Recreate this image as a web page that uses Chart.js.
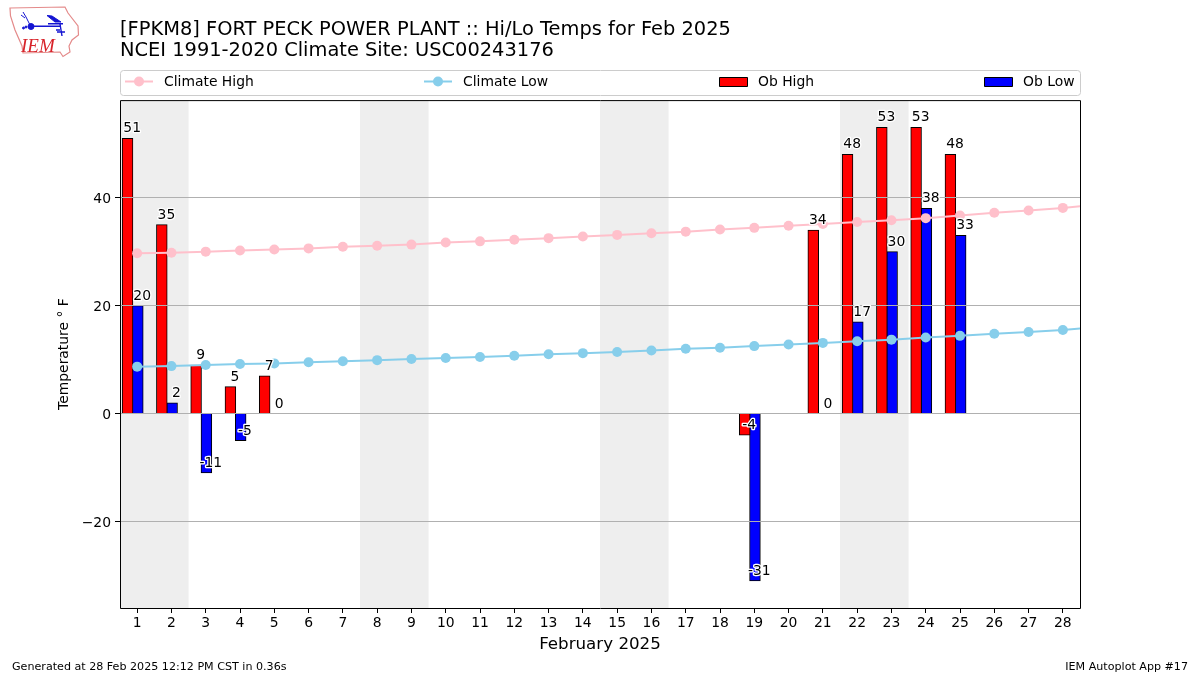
<!DOCTYPE html>
<html><head><meta charset="utf-8">
<style>html,body{margin:0;padding:0;background:#fff;overflow:hidden}
#wrap{position:relative;width:1200px;height:675px}
canvas{position:absolute;left:0;top:0}
#logo{position:absolute;left:0;top:0}</style>
<script src="https://cdn.jsdelivr.net/npm/chart.js@4"></script>
</head><body><div id="wrap"><canvas id="c" width="1200" height="675"></canvas>
<svg id="logo" width="90" height="64" viewBox="0 0 90 64">
<path d="M10 8 L65 7 L68 13 L78 26 L78.5 35 L72 40 L69 46 L70 52 L63 56.5 L60 52 L23 53 L22 46 L15 30 L10.5 16 Z" fill="none" stroke="#e48a8a" stroke-width="1.2"/>
<g stroke="#1414d2" fill="#1414d2"><path d="M31 26.3 H61 M48 23.7 H63" stroke-width="1.6" fill="none"/><circle cx="31" cy="26.5" r="3"/>
<path d="M47 15.5 L52 16 L61 22 L55 22 Z" stroke-width="1"/><path d="M23 12 L26 17 L30 25 M21 15 L25 18" fill="none" stroke-width="1"/>
<path d="M60 24 L62 36 M57 32 L65 32 M56 30 L60 30" fill="none" stroke-width="1.4"/><circle cx="23.5" cy="28" r="1"/><circle cx="26" cy="27" r="1"/></g>
<text x="21" y="51.5" font-family="Liberation Serif" font-style="italic" font-size="19" fill="#d8232a">IEM</text>
</svg></div>
<script>
const days = [1,2,3,4,5,6,7,8,9,10,11,12,13,14,15,16,17,18,19,20,21,22,23,24,25,26,27,28];
const climateDays = [1,2,3,4,5,6,7,8,9,10,11,12,13,14,15,16,17,18,19,20,21,22,23,24,25,26,27,28,29];
const climateHigh = [29.7,29.8,30.0,30.2,30.4,30.6,30.9,31.1,31.3,31.7,31.9,32.2,32.5,32.8,33.1,33.4,33.7,34.1,34.4,34.8,35.1,35.5,35.8,36.2,36.7,37.2,37.6,38.1,38.7];
const climateLow = [8.7,8.8,9.0,9.2,9.3,9.5,9.7,9.9,10.1,10.3,10.5,10.7,11.0,11.2,11.4,11.7,12.0,12.2,12.5,12.8,13.1,13.4,13.7,14.1,14.4,14.8,15.1,15.5,16.0];
const obHigh = [51,35,9,5,7,null,null,null,null,null,null,null,null,null,null,null,null,null,-4,null,34,48,53,53,48,null,null,null];
const obLow = [20,2,-11,-5,0,null,null,null,null,null,null,null,null,null,null,null,null,null,-31,null,0,17,30,38,33,null,null,null];
const weekendStarts = [1,8,15,22];
const yTicks = [-20,0,20,40];
const titleLines = ['[FPKM8] FORT PECK POWER PLANT :: Hi/Lo Temps for Feb 2025','NCEI 1991-2020 Climate Site: USC00243176'];
const xLabel = 'February 2025';
const yLabel = 'Temperature \u00B0 F';
const footLeft = 'Generated at 28 Feb 2025 12:12 PM CST in 0.36s';
const footRight = 'IEM Autoplot App #17';

const FONT = '"DejaVu Sans"';
const HI_OFF = -0.28, LO_OFF = 0.02, BAR_W = 10.8, LABEL_OFF = 0.146;
Chart.defaults.font.family = FONT;
Chart.defaults.color = '#000';

const deco = {
  id:'deco',
  beforeDraw(ch){
    ch.scales.y.getLabelItems().forEach(it=>{it.textOffset += 1.5;});
  },
  beforeDatasetsDraw(ch){
    const {ctx,chartArea:a,scales:{x}} = ch;
    ctx.save(); ctx.fillStyle='#eeeeee';
    weekendStarts.forEach(d=>{const l=x.getPixelForValue(d-0.5),r=x.getPixelForValue(d+1.5);ctx.fillRect(l,a.top,r-l,a.bottom-a.top);});
    ctx.restore();
  },
  afterDraw(ch){
    const {ctx,chartArea:a,scales:{x,y}} = ch;
    ctx.save();
    ctx.font='13.9px '+FONT; ctx.textAlign='center'; ctx.textBaseline='alphabetic'; ctx.lineJoin='round';
    const lab=(vals,off)=>vals.forEach((v,i)=>{ if(v===null) return;
      const px=x.getPixelForValue(days[i]+off), py=y.getPixelForValue(v)-6;
      ctx.strokeStyle='#fff'; ctx.lineWidth=2.6; ctx.strokeText(String(v),px,py);
      ctx.fillStyle='#000'; ctx.fillText(String(v),px,py);});
    lab(obHigh,-LABEL_OFF); lab(obLow,LABEL_OFF);
    ctx.textAlign='left';
    ctx.strokeStyle='#000'; ctx.lineWidth=1;
    ctx.strokeRect(a.left+0.5,a.top+0.5,a.right-a.left,a.bottom-a.top);
    ctx.strokeStyle='#cccccc'; ctx.beginPath(); ctx.roundRect(120.5,70.5,960,25,3); ctx.stroke();
    const ds=ch.data.datasets, cy=81.5;
    [[125,ds[0]],[424,ds[1]]].forEach(([lx,d])=>{
      ctx.strokeStyle=d.borderColor; ctx.lineWidth=2; ctx.beginPath(); ctx.moveTo(lx,cy); ctx.lineTo(lx+28,cy); ctx.stroke();
      ctx.fillStyle=d.borderColor; ctx.beginPath(); ctx.arc(lx+14,cy,5,0,7); ctx.fill();
      ctx.fillStyle='#000'; ctx.fillText(d.label,lx+39,cy+4.5);
    });
    [[719.5,ds[2]],[984.5,ds[3]]].forEach(([lx,d])=>{
      ctx.fillStyle=d.backgroundColor; ctx.fillRect(lx,77.5,28,9); ctx.strokeStyle='#000'; ctx.lineWidth=1; ctx.strokeRect(lx,77.5,28,9);
      ctx.fillStyle='#000'; ctx.fillText(d.label,lx+38.5,cy+4.5);
    });
    ctx.font='11.12px '+FONT; ctx.fillText(footLeft,12,670);
    ctx.textAlign='right'; ctx.fillText(footRight,1188,670);
    ctx.restore();
  }
};

new Chart(document.getElementById('c'),{
  type:'bar',
  plugins:[deco],
  data:{datasets:[
    {type:'line',label:'Climate High',order:1,data:climateDays.map((d,i)=>({x:d,y:climateHigh[i]})),borderColor:'#ffc0cb',backgroundColor:'#ffc0cb',borderWidth:2,pointRadius:5,pointBorderWidth:0,tension:0},
    {type:'line',label:'Climate Low',order:1,data:climateDays.map((d,i)=>({x:d,y:climateLow[i]})),borderColor:'#87ceeb',backgroundColor:'#87ceeb',borderWidth:2,pointRadius:5,pointBorderWidth:0,tension:0},
    {label:'Ob High',order:2,grouped:false,barThickness:BAR_W,data:days.map((d,i)=>({x:d+HI_OFF,y:obHigh[i]})),backgroundColor:'#ff0000',borderColor:'#000',borderWidth:1},
    {label:'Ob Low',order:2,grouped:false,barThickness:BAR_W,data:days.map((d,i)=>({x:d+LO_OFF,y:obLow[i]})),backgroundColor:'#0000ff',borderColor:'#000',borderWidth:1}
  ]},
  options:{
    responsive:false,animation:false,
    layout:{padding:{left:0,right:120,top:0,bottom:0}},
    plugins:{
      legend:{display:false},tooltip:{enabled:false},
      title:{display:true,text:titleLines,align:'start',fullSize:false,color:'#000',font:{family:FONT,size:19.42,weight:'normal',lineHeight:1.11},padding:{top:19,bottom:38}}
    },
    scales:{
      x:{type:'linear',min:0.5,max:28.5,offset:false,
        afterBuildTicks(s){s.ticks=days.map(v=>({value:v}));},
        afterFit(s){s.height=67;},
        border:{display:false},
        grid:{display:true,offset:false,drawOnChartArea:false,drawTicks:true,tickLength:5,tickColor:'#000',tickWidth:1},
        ticks:{autoSkip:false,maxRotation:0,padding:2,font:{size:13.9},color:'#000',callback:v=>String(v)},
        title:{display:true,text:xLabel,font:{size:16.7},color:'#000',padding:{top:0,bottom:20}}
      },
      y:{type:'linear',min:-36,max:58.06,
        afterBuildTicks(s){s.ticks=yTicks.map(v=>({value:v}));},
        afterFit(s){s.width=120;},
        border:{display:false},
        grid:{z:1,color:'#b0b0b0',lineWidth:1,drawTicks:true,tickLength:5,tickColor:'#000',tickWidth:1},
        ticks:{padding:4,font:{size:13.9},color:'#000',callback:v=>String(v).replace('-','\u2212')},
        title:{display:true,text:yLabel,font:{size:13.9},color:'#000',padding:{top:56,bottom:0}}
      }
    }
  }
});
</script></body></html>
